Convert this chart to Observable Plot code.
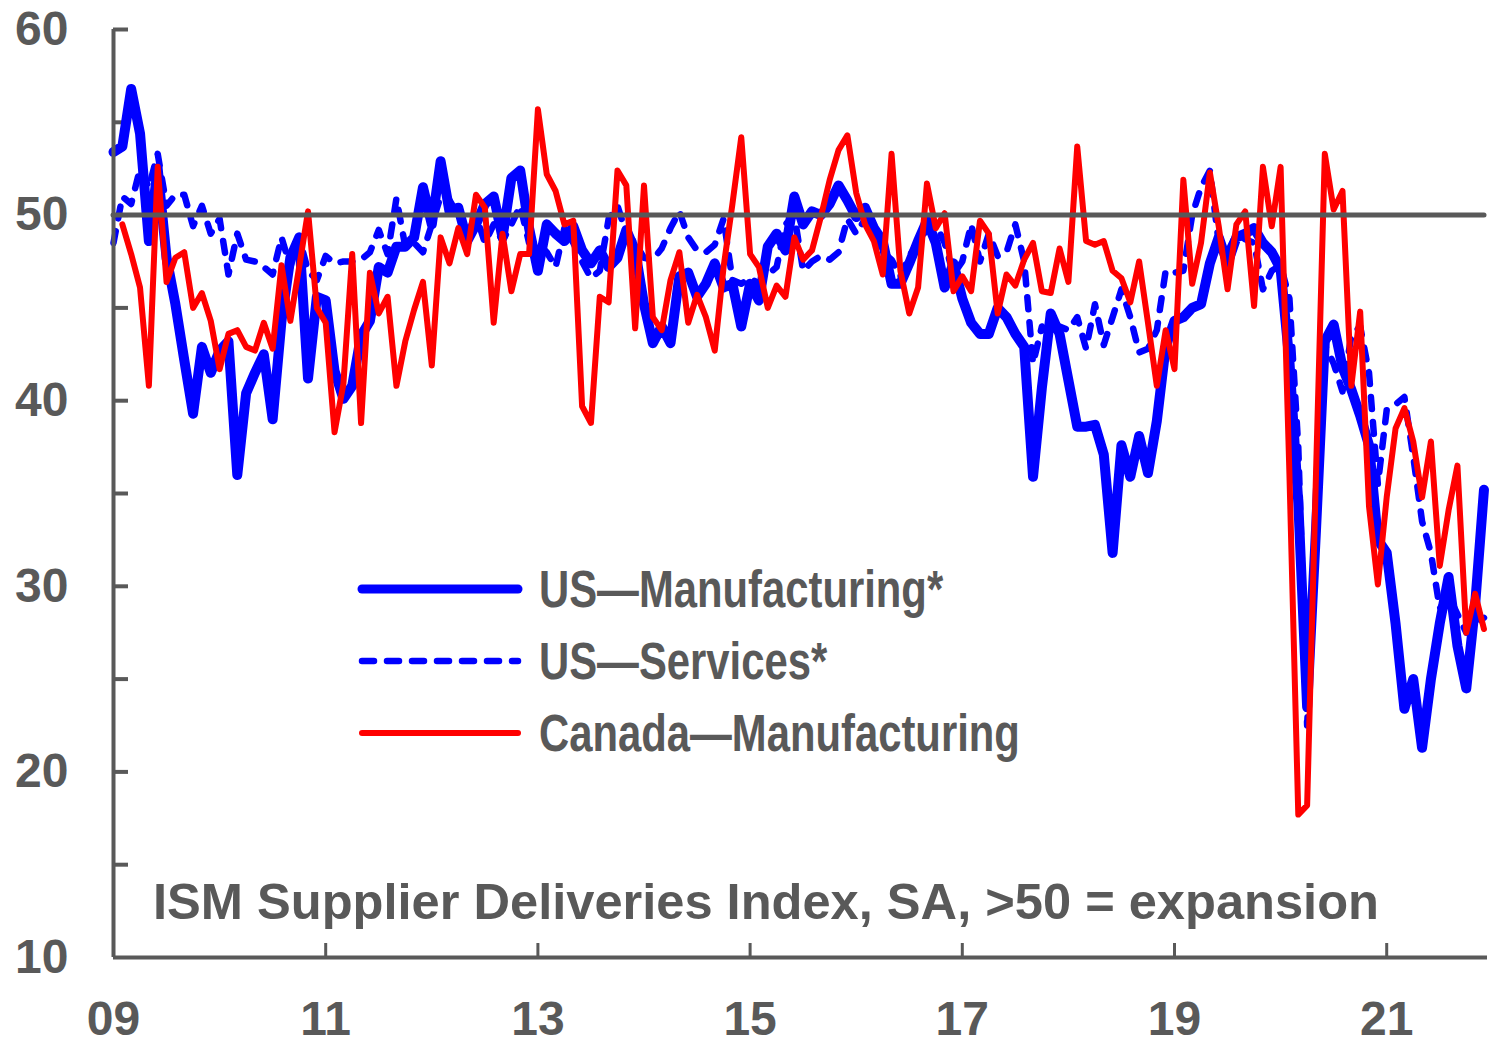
<!DOCTYPE html>
<html><head><meta charset="utf-8">
<script src="https://cdn.jsdelivr.net/npm/d3@7"></script>
<script src="https://cdn.jsdelivr.net/npm/@observablehq/plot@0.6"></script>
<style>
body{margin:0;background:#fff;}
#wrap{position:relative;width:1489px;height:1045px;overflow:hidden;}
#wrap svg{position:absolute;left:0;top:0;}
</style></head><body><div id="wrap"></div>
<script>
// Monthly data, Jan 2009 .. Dec 2021
const startYear = 2009;
const usMfg = [
53.4,53.7,56.8,54.4,48.6,52.5,47.7,45.2,42.2,39.3,42.9,41.5,
42.7,43.2,36.0,40.4,41.5,42.5,39.0,44.3,47.7,48.8,41.2,45.6,
45.4,41.6,40.1,40.8,43.5,44.3,47.2,46.9,48.3,48.3,48.8,51.5,
49.5,52.9,50.2,50.4,48.6,49.5,50.6,51.0,48.8,52.0,52.4,49.3,
47.0,49.5,49.0,48.6,49.4,48.1,47.4,48.1,47.2,47.7,49.2,48.1,
45.2,43.1,44.0,43.1,46.7,46.9,45.6,46.3,47.4,46.1,46.3,44.0,
46.3,45.4,48.3,49.0,48.1,51.0,49.5,50.2,50.0,50.6,51.6,50.8,
49.9,50.4,49.3,48.6,46.3,46.3,47.4,48.6,49.7,48.5,46.1,47.4,
45.5,44.2,43.6,43.6,45.0,44.5,43.6,42.9,35.9,40.7,44.7,43.6,
41.1,38.6,38.6,38.7,37.1,31.8,37.6,35.9,38.1,36.1,38.9,42.9,
44.3,44.5,45.0,45.2,47.4,48.8,47.4,48.8,49.0,49.3,48.5,48.0,
47.1,42.1,34.5,23.5,33.0,43.2,44.1,41.8,40.6,39.2,37.6,32.5,
31.8,28.0,23.4,25.0,21.3,25.0,28.0,30.5,26.8,24.5,29.0,35.2
];
const usServices = [
48.5,51.0,50.6,52.5,51.5,53.3,50.5,51.1,51.1,49.4,50.5,49.0,
49.8,46.8,49.0,47.6,47.5,47.2,46.8,48.8,47.2,48.8,47.0,46.5,
47.8,47.4,47.5,47.5,47.6,48.0,49.2,47.9,50.9,48.3,48.5,48.0,
49.5,51.0,50.8,50.0,49.0,50.0,48.5,49.5,48.6,49.5,50.5,48.5,
48.5,48.0,47.2,49.3,48.5,47.5,46.6,47.0,49.8,50.5,49.0,48.5,
47.7,47.6,48.2,49.3,50.2,48.8,48.1,48.0,48.4,49.8,46.5,46.3,
46.6,46.3,46.8,47.2,49.5,50.0,47.0,47.5,47.8,47.6,48.0,49.8,
49.0,49.8,48.8,48.0,47.6,46.7,47.8,48.5,49.2,49.5,48.5,46.8,
47.5,49.5,47.5,49.0,47.8,48.0,49.5,47.5,42.0,44.0,43.5,44.0,
43.8,44.5,42.8,45.2,43.0,44.5,46.0,44.5,42.6,42.8,43.8,47.0,
46.9,47.0,50.0,51.5,52.4,48.5,48.0,49.0,48.7,48.5,46.0,47.0,
47.3,45.5,37.5,22.5,33.0,43.0,42.0,40.5,43.5,44.0,41.5,35.5,
39.5,39.8,40.2,37.0,33.5,31.8,28.8,29.5,28.5,27.5,28.0,28.3
];
const canadaMfg = [
null,49.5,47.9,46.1,40.8,52.6,46.4,47.7,48.0,45.0,45.8,44.3,
41.7,43.6,43.8,42.9,42.7,44.2,42.8,47.3,44.3,47.2,50.2,45.0,
44.2,38.3,40.9,47.9,38.8,46.9,44.7,45.6,40.8,43.2,44.9,46.4,
41.9,48.8,47.4,49.3,47.9,51.1,50.4,44.2,49.0,45.9,47.9,47.9,
55.7,52.2,51.3,49.5,49.7,39.7,38.8,45.6,45.3,52.4,51.6,43.9,
51.6,44.5,43.8,46.5,48.0,44.2,45.7,44.5,42.7,47.2,50.6,54.2,
47.9,47.2,45.0,46.2,45.6,48.8,47.6,48.1,49.9,51.9,53.5,54.3,
51.2,49.5,48.6,46.8,53.3,47.0,44.7,46.1,51.7,49.3,50.1,45.9,
46.7,45.9,49.7,49.0,44.7,46.8,46.2,47.6,48.5,45.9,45.8,48.2,
46.4,53.7,48.6,48.4,48.6,47.0,46.6,45.3,47.5,44.2,40.8,43.8,
41.7,51.9,46.3,48.5,52.3,49.4,46.0,49.5,50.2,45.1,52.6,49.4,
52.6,36.0,17.7,18.2,36.0,53.3,50.3,51.3,40.8,44.8,34.3,30.1,
34.8,38.5,39.6,37.8,34.8,37.8,31.1,34.1,36.5,27.5,29.6,27.7
];
const yTickLabels = [10,20,30,40,50,60];
const yTickMarks = [15,20,25,30,35,40,45,50,55,60];
const xTickLabels = [2009,2011,2013,2015,2017,2019,2021];
const xTickMarks = [2011,2013,2015,2017,2019,2021];
const threshold = [50];
const seriesNames = ["US\u2014Manufacturing*","US\u2014Services*","Canada\u2014Manufacturing"];
const seriesColors = ["#0000ff","#0000ff","#ff0000"];
const caption = "ISM Supplier Deliveries Index, SA, >50 = expansion";

const W=1489,H=1045,mL=113,mR=2,mT=29,mB=88;
const gray="#595959";
const FONT="'Liberation Sans', Arial, Helvetica, sans-serif";
const rows = arr => arr.map((v,i)=>({t: startYear + i/12, v}));

const chart = Plot.plot({
  width:W, height:H, marginLeft:mL, marginRight:mR, marginTop:mT, marginBottom:mB,
  style:{fontFamily:FONT, fontWeight:"bold", fontSize:"48px", color:gray, background:"transparent"},
  x:{domain:[2009, 2021.95], label:null},
  y:{domain:[10,60], label:null},
  marks:[
    Plot.axisY(yTickLabels,{tickSize:0, tickPadding:45, fill:gray, fontSize:48, label:null}),
    Plot.axisX(xTickLabels,{tickSize:0, tickPadding:43, fill:gray, fontSize:48, label:null,
      tickFormat:d=>String(d%100).padStart(2,"0")}),
    Plot.tickY(yTickMarks,{y:d=>d, stroke:gray, strokeWidth:4, insetRight:(W-mL-mR)-15}),
    Plot.tickX(xTickMarks,{x:d=>d, stroke:gray, strokeWidth:3, insetTop:(H-mT-mB)-14}),
    Plot.line(rows(usMfg),{x:"t", y:"v", stroke:seriesColors[0], strokeWidth:10, strokeLinejoin:"round", strokeLinecap:"round"}),
    Plot.line(rows(usServices),{x:"t", y:"v", stroke:seriesColors[1], strokeWidth:6.5, strokeDasharray:"12,13", strokeLinejoin:"round", strokeLinecap:"round"}),
    Plot.line(rows(canadaMfg),{x:"t", y:"v", stroke:seriesColors[2], strokeWidth:6, strokeLinejoin:"round", strokeLinecap:"round"}),
    Plot.ruleX([2009],{stroke:gray, strokeWidth:4}),
    Plot.ruleY([10],{stroke:gray, strokeWidth:4}),
    Plot.ruleY(threshold,{stroke:gray, strokeWidth:5, strokeLinecap:"round", insetRight:3})
  ]
});
const wrap = document.getElementById("wrap");
wrap.appendChild(chart);

// overlay: legend + caption inside the plot area
const ov = d3.select(wrap).append("svg").attr("width",W).attr("height",H)
  .style("font-family",FONT).style("font-weight","bold");
const legendDash = [null,"12,13",null];
const legendWidth = [9,6.5,6];
seriesNames.forEach((name,k)=>{
  const y = 589 + k*72;
  ov.append("line").attr("x1",362).attr("x2",518).attr("y1",y).attr("y2",y)
    .attr("stroke",seriesColors[k]).attr("stroke-width",legendWidth[k])
    .attr("stroke-linecap","round").attr("stroke-dasharray",legendDash[k]);
  ov.append("text").attr("transform",`translate(539,${y+18}) scale(0.82,1)`)
    .attr("font-size",51).attr("fill",gray).text(name);
});
ov.append("text").attr("x",153).attr("y",919).attr("font-size",50.6).attr("fill",gray).text(caption);
</script></body></html>
